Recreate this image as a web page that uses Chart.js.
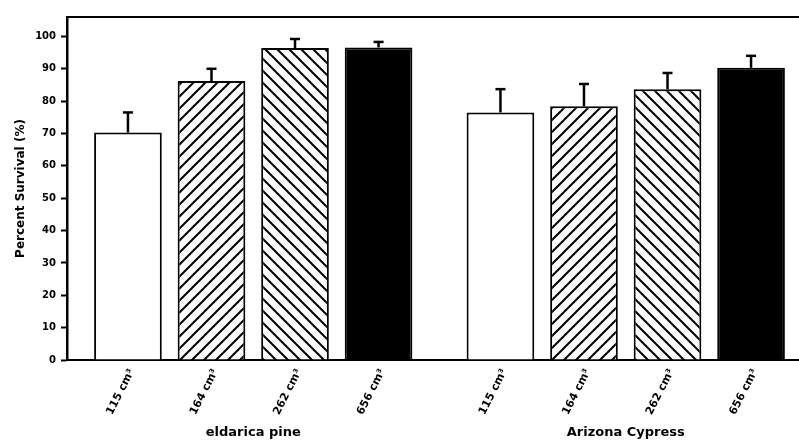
<!DOCTYPE html>
<html>
<head>
<meta charset="utf-8">
<script src="https://cdn.jsdelivr.net/npm/chart.js@4/dist/chart.umd.min.js"></script>
<style>
  html, body { margin: 0; padding: 0; background: #fff; overflow: hidden; }
  #wrap { position: relative; width: 830px; height: 443px; }
</style>
</head>
<body>
<div id="wrap"><canvas id="myChart"></canvas></div>
<script>
// species (x categories) and container sizes (one dataset each)
const groups = ['eldarica pine', 'Arizona Cypress'];
const potSizes = ['115 cm³', '164 cm³', '262 cm³', '656 cm³'];

// percent survival, one value per species
const survival115 = [70.3, 76.5];
const survival164 = [86.2, 78.4];
const survival262 = [96.4, 83.7];
const survival656 = [96.6, 90.3];

// upper error (added on top of the bar)
const err115 = [6.2, 7.2];
const err164 = [3.8, 6.9];
const err262 = [2.8, 5.0];
const err656 = [1.7, 3.7];

const FONT = "'DejaVu Sans', 'Liberation Sans', Arial, sans-serif";

// hatch pattern, dir 1 = '/', dir -1 = '\'
function hatch(dir) {
    const s = 12;
    const c = document.createElement('canvas');
    c.width = s; c.height = s;
    const g = c.getContext('2d');
    g.fillStyle = '#fff';
    g.fillRect(0, 0, s, s);
    g.strokeStyle = '#000';
    g.lineWidth = 2;
    g.beginPath();
    if (dir > 0) {
        g.moveTo(-2, s + 2); g.lineTo(s + 2, -2);
        g.moveTo(-2, 2); g.lineTo(2, -2);
        g.moveTo(s - 2, s + 2); g.lineTo(s + 2, s - 2);
    } else {
        g.moveTo(-2, -2); g.lineTo(s + 2, s + 2);
        g.moveTo(-2, s - 2); g.lineTo(2, s + 2);
        g.moveTo(s - 2, -2); g.lineTo(s + 2, 2);
    }
    g.stroke();
    const ctx0 = document.getElementById('myChart').getContext('2d');
    return ctx0.createPattern(c, 'repeat');
}

const fills = ['#fff', hatch(1), hatch(-1), '#000'];
const values = [survival115, survival164, survival262, survival656];
const errors = [err115, err164, err262, err656];

const datasets = potSizes.map((p, i) => ({
    label: p,
    data: values[i],
    errUp: errors[i],
    backgroundColor: fills[i],
    borderColor: '#000',
    borderWidth: 2,
    borderSkipped: 'start',
    categoryPercentage: 0.897,
    barPercentage: 0.81
}));

// error bars (upper whisker + cap)
const errorBars = {
    id: 'errorBars',
    afterDatasetsDraw(chart) {
        const ctx = chart.ctx;
        const y = chart.scales.y;
        ctx.save();
        ctx.strokeStyle = '#000';
        chart.data.datasets.forEach((ds, i) => {
            const meta = chart.getDatasetMeta(i);
            meta.data.forEach((bar, j) => {
                const top = y.getPixelForValue(ds.data[j] + ds.errUp[j]);
                ctx.lineWidth = 2.5;
                ctx.beginPath();
                ctx.moveTo(bar.x, bar.y);
                ctx.lineTo(bar.x, top);
                ctx.stroke();
                ctx.beginPath();
                ctx.moveTo(bar.x - 5, top);
                ctx.lineTo(bar.x + 5, top);
                ctx.stroke();
            });
        });
        ctx.restore();
    }
};

// rotated container-size labels under each bar, plus top frame line
const barLabels = {
    id: 'barLabels',
    afterDraw(chart) {
        const ctx = chart.ctx;
        const area = chart.chartArea;
        ctx.save();
        ctx.strokeStyle = '#000';
        ctx.lineWidth = 2;
        ctx.beginPath();
        ctx.moveTo(area.left, area.top);
        ctx.lineTo(area.right, area.top);
        ctx.stroke();

        ctx.fillStyle = '#000';
        ctx.font = 'bold 11px ' + FONT;
        ctx.textAlign = 'right';
        ctx.textBaseline = 'middle';
        chart.data.datasets.forEach((ds, i) => {
            const meta = chart.getDatasetMeta(i);
            meta.data.forEach(bar => {
                ctx.save();
                ctx.translate(bar.x + 4, area.bottom + 10);
                ctx.rotate(-63 * Math.PI / 180);
                ctx.fillText(ds.label, 0, 0);
                ctx.restore();
            });
        });
        ctx.restore();
    }
};

const ctx = document.getElementById('myChart').getContext('2d');

const myChart = new Chart(ctx, {
    type: 'bar',
    data: { labels: groups, datasets: datasets },
    plugins: [errorBars, barLabels],
    options: {
        responsive: true,
        maintainAspectRatio: false,
        animation: false,
        layout: { padding: { top: 17, right: 18, left: 14, bottom: 0 } },
        plugins: {
            legend: { display: false },
            tooltip: { enabled: false }
        },
        scales: {
            x: {
                grid: { display: false, drawTicks: false },
                border: { display: true, color: '#000', width: 2 },
                ticks: {
                    color: '#000',
                    padding: 65,
                    maxRotation: 0,
                    font: { family: FONT, size: 13, weight: 'bold' }
                },
                afterFit(scale) { scale.height = 83; }
            },
            y: {
                min: 0,
                max: 106,
                grid: {
                    drawOnChartArea: false,
                    drawTicks: true,
                    tickLength: 6,
                    tickWidth: 2,
                    tickColor: '#000'
                },
                border: { display: true, color: '#000', width: 2.5 },
                ticks: {
                    stepSize: 10,
                    color: '#000',
                    padding: 5,
                    font: { family: FONT, size: 10, weight: 'bold' },
                    callback: v => (v <= 100 && v % 10 === 0) ? v : null
                },
                title: {
                    display: true,
                    text: 'Percent Survival (%)',
                    color: '#000',
                    padding: { top: 0, bottom: 6 },
                    font: { family: FONT, size: 12, weight: 'bold' }
                },
                afterFit(scale) { scale.width = 53; }
            }
        }
    }
});
</script>
</body>
</html>
